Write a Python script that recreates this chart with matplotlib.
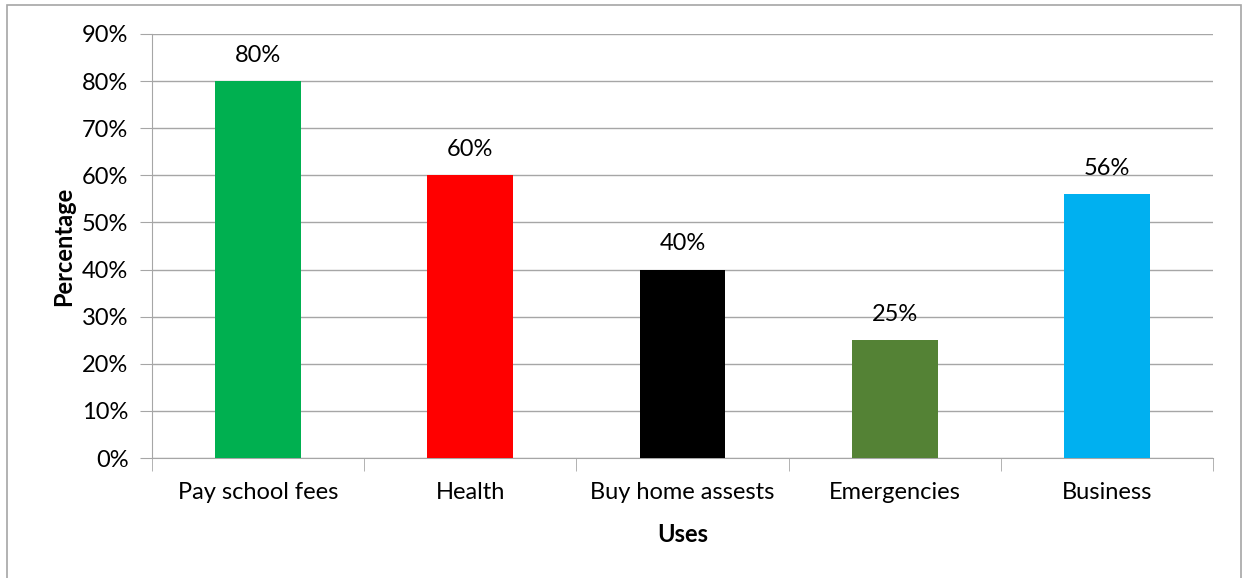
import matplotlib
matplotlib.use("Agg")
import matplotlib.pyplot as plt
from matplotlib.patches import Rectangle
from matplotlib.ticker import PercentFormatter, MultipleLocator

categories = ["Pay school fees", "Health", "Buy home assests", "Emergencies", "Business"]
values = [80, 60, 40, 25, 56]
colors = ["#00B050", "#FF0000", "#000000", "#548235", "#00B0F0"]

plt.rcParams['font.family'] = ['Lato', 'DejaVu Sans']
fs = 17

fig = plt.figure(figsize=(12.44, 5.78), dpi=100)
ax = fig.add_axes([0.1222, 0.2076, 0.8529, 0.7336])

# outer chart frame
fig.patches.append(Rectangle((7 / 1244, -0.01), (1241 - 7) / 1244, 1 - 5 / 578 + 0.01,
                             transform=fig.transFigure, fill=False,
                             edgecolor="#A6A6A6", linewidth=1.2))

x = range(len(categories))
bars = ax.bar(x, values, width=0.405, color=colors, zorder=3)
for b, v in zip(bars, values):
    ax.text(b.get_x() + b.get_width() / 2, v + 3.2, f"{v}%", ha="center", va="bottom",
            fontsize=fs, color="black")

ax.set_xlim(-0.5, len(categories) - 0.5)
ax.set_ylim(0, 90)
ax.yaxis.set_major_locator(MultipleLocator(10))
ax.yaxis.set_major_formatter(PercentFormatter(decimals=0))
ax.grid(axis="y", color="#A6A6A6", linewidth=1, zorder=0)

ax.set_xticks(list(x))
ax.set_xticklabels(categories)
ax.set_xticks([i - 0.5 for i in range(len(categories) + 1)], minor=True)
ax.tick_params(axis="x", which="major", length=0, pad=17, labelsize=fs)
ax.tick_params(axis="x", which="minor", length=9, color="#A6A6A6", direction="out")
ax.tick_params(axis="y", length=9, color="#A6A6A6", pad=8, labelsize=fs)

for s in ["top", "right"]:
    ax.spines[s].set_visible(False)
for s in ["left", "bottom"]:
    ax.spines[s].set_color("#A6A6A6")

ax.set_xlabel("Uses", fontsize=fs, fontweight="bold", labelpad=15)
ax.set_ylabel("Percentage", fontsize=fs, fontweight="bold", labelpad=5)

fig.savefig("out.png", dpi=100)
